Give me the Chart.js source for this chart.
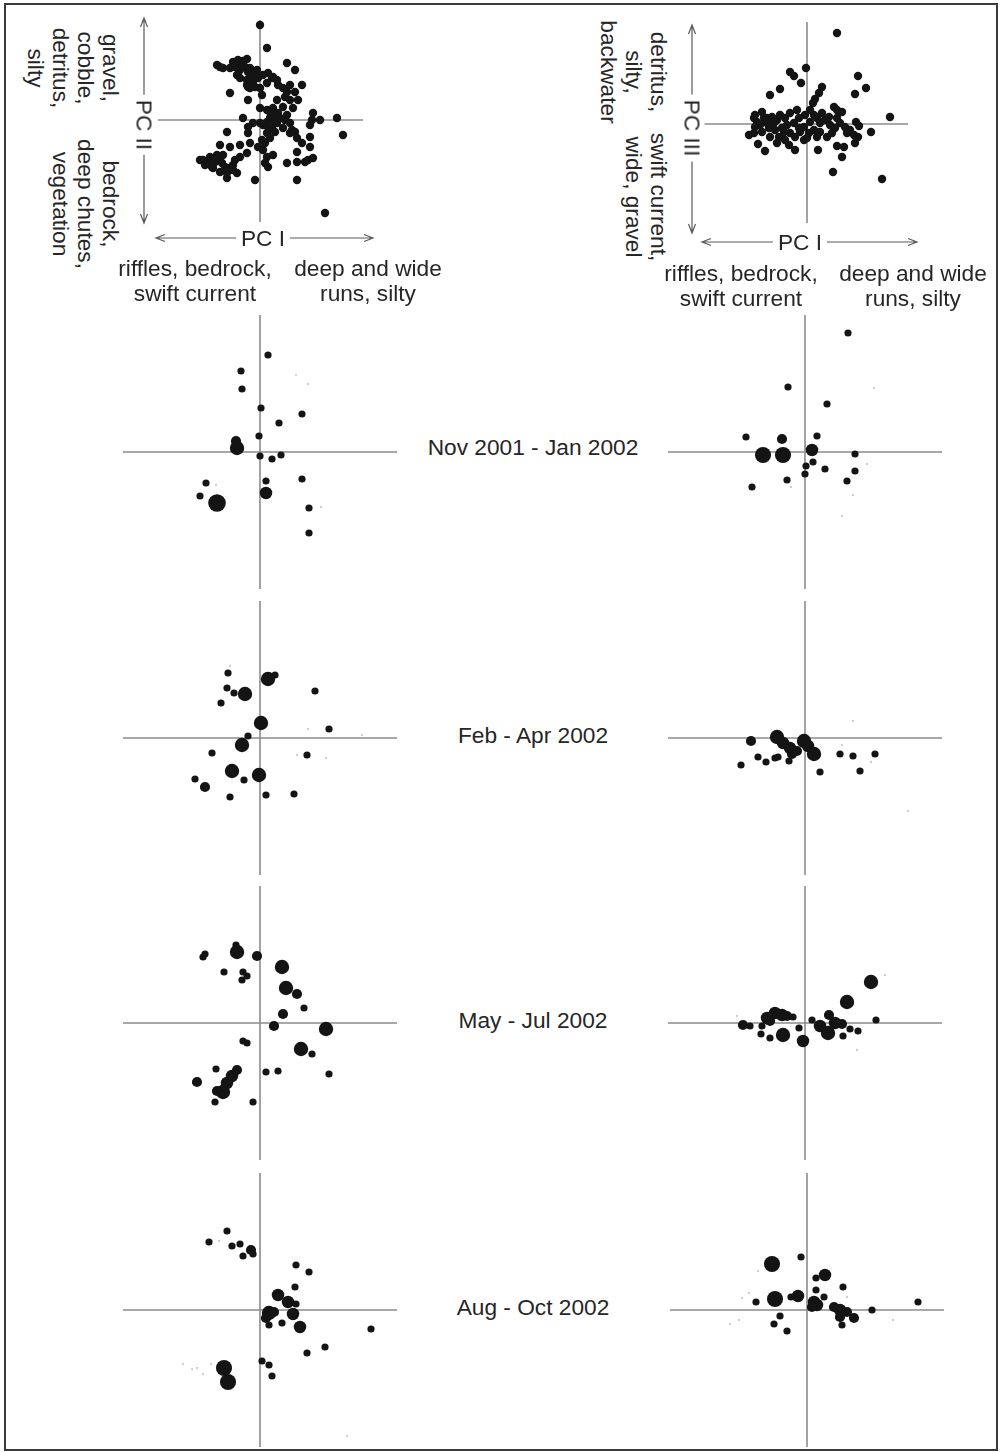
<!DOCTYPE html>
<html>
<head>
<meta charset="utf-8">
<script src="https://cdn.jsdelivr.net/npm/chart.js@4.4.0/dist/chart.umd.min.js"></script>
<style>
  html, body { margin: 0; padding: 0; background: #fff; }
  #fig { position: relative; width: 1000px; height: 1452px; overflow: hidden;
         font-family: "Liberation Sans", Arial, Helvetica, sans-serif; color: #262626; }
  #frame { position: absolute; left: 4px; top: 3px; width: 990px; height: 1444px; border: 2px solid #3a3a3a; }
  canvas { position: absolute; }
  .lbl { position: absolute; white-space: pre; text-align: center; font-size: 22.7px; line-height: 25px;
         transform: translate(-50%, -50%); }
  .rot { transform: translate(-50%, -50%) rotate(90deg); }
  .bg { background: #fff; padding: 0 5px; }
</style>
</head>
<body>
<div id="fig"><div id="frame"></div></div>
<script>
// ---- Site scores, PC I vs PC II ----
const sitesPC12 = [[0,9.5],[0.7,7.2],[-4.3,5.5],[-4.0,5.3],[-3.7,5.2],[-3.0,5.2],[-2.7,5.8],[-2.2,6.0],[-1.7,5.9],[-1.3,6.1],
  [-2.5,5.3],[-2.0,5.0],[-1.5,5.3],[-1.0,5.2],[-0.3,5.0],[-2.3,4.5],[-2.0,4.2],[-1.3,4.0],[-0.8,4.5],[-0.7,3.8],
  [-1.3,3.5],[-1.0,3.2],[-0.2,4.2],[0.3,4.5],[0.8,4.7],[1.2,4.2],[1.7,4.0],[2.7,5.7],[3.5,5.0],[0,3.2],
  [0.2,2.5],[-3.0,2.7],[-1.2,3.3],[-0.5,3.3],[0.7,3.7],[1.3,4.3],[2.3,3.2],[3.0,3.5],[3.5,2.8],[4.2,3.5],
  [2.5,2.3],[1.7,2.0],[3.0,2.0],[3.8,2.0],[3.3,1.2],[2.3,1.3],[1.3,1.2],[0.7,1.0],[0,1.2],[1.8,0.7],
  [2.7,0.5],[1.0,0.2],[0.7,-0.2],[1.3,0],[1.7,-0.3],[2.0,0.2],[2.5,0],[3.0,-0.3],[0.3,-0.5],[0.8,-0.7],
  [-1.7,0.2],[-1.2,-0.7],[-0.7,-0.3],[0,-0.3],[1.2,-0.8],[1.5,-1.2],[2.3,-0.8],[3.2,-1.0],[3.0,-1.3],[3.5,-1.2],
  [3.7,-1.8],[5.3,0.7],[5.2,0],[5.0,-0.5],[6.0,0],[7.7,0.2],[8.3,-1.5],[5.0,-1.7],[4.2,-2.3],[5.0,-2.7],
  [3.7,-3.2],[4.8,-4.0],[5.3,-3.8],[4.5,-4.2],[3.7,-4.2],[2.7,-4.3],[1.3,-3.5],[0.5,-4.3],[0.7,-3.7],[0.8,-4.7],
  [0.3,-3.0],[0.5,-2.3],[0.2,-2.0],[-0.2,-2.7],[-1.2,-1.3],[-1.0,-2.3],[-2.0,-2.5],[-3.3,-1.2],[-4.0,-2.5],[-3.0,-2.7],
  [-1.3,-3.3],[-2.0,-3.7],[-2.5,-4.0],[-2.7,-4.5],[-3.0,-4.8],[-3.3,-5.3],[-4.0,-5.2],[-4.7,-4.8],[-5.3,-4.3],[-5.7,-4.0],
  [-5.0,-3.7],[-4.3,-3.5],[-3.7,-3.5],[-4.5,-4.2],[-3.8,-4.3],[-3.5,-4.7],[-2.7,-5.0],[-2.3,-5.3],[-3.3,-5.8],[-0.5,-6.0],
  [3.7,-6.0],[6.5,-9.3],[1.0,-1.8],[0.7,-1.3],[-1.2,2.0],[-6.0,-4.0],[-5.5,-4.5],[-4.8,-4.7],[-4.2,-4.0],[-1.8,5.5],
  [-1.2,4.8],[1.8,3.5],[2.7,2.8],[1.3,0.5],[1.0,0.8]];

// ---- Site scores, PC I vs PC III ----
const sitesPC13 = [[3.0,9.1],[-1.7,5.2],[-1.3,4.8],[-0.1,5.6],[-0.6,4.1],[5.1,4.8],[5.9,3.6],[4.8,3.0],[-3.7,2.9],[-2.7,3.5],
  [1.5,3.7],[1.2,3.1],[0.8,2.5],[0.6,2.1],[8.3,0.7],[6.4,-0.8],[2.7,1.7],[3.0,1.4],[3.5,1.2],[4.9,0.2],
  [5.2,-0.2],[5.1,-1.3],[4.8,-1.9],[3.7,-2.3],[3.0,-2.2],[3.5,-3.3],[2.6,-4.8],[7.5,-5.5],[1.1,-2.6],[-1.2,-2.6],
  [-4.2,-2.7],[-4.9,-2.0],[-5.8,-1.1],[-5.3,0.6],[-4.5,1.2],[-5.2,-0.3],[-5.0,0.2],[-4.3,0.6],[-4.0,0.1],[-3.5,0.7],
  [-3.0,0.4],[-2.7,0.9],[-2.2,0.6],[-1.7,1.1],[-1.0,1.4],[-0.8,0.6],[-1.3,0.1],[-2.0,-0.1],[-2.5,-0.4],[-3.2,-0.6],
  [-3.8,-0.4],[-4.5,-0.8],[-3.7,-1.3],[-2.8,-1.3],[-2.2,-1.6],[-1.7,-0.9],[-1.2,-1.3],[-0.7,-0.8],[-0.3,-0.3],[0.3,0.2],
  [0.7,0.9],[1.0,0.6],[1.3,0.1],[1.8,0.4],[2.3,-0.1],[2.8,-0.4],[3.3,0.1],[3.8,-0.3],[4.3,-0.6],[2.5,-0.9],
  [2.0,-1.3],[1.3,-0.8],[0.7,-0.6],[0.2,-0.9],[-0.3,-1.6],[0,-1.4],[-1.8,-2.1],[-3.0,-1.9],[0.3,1.4],[-0.2,0.9],
  [1.5,1.1],[2.2,0.7],[3.0,0.6],[4.0,-0.9],[4.7,-1.1],[-5.3,-0.9],[-4.7,-0.1],[-3.3,0.1],[-2.3,-0.8],[-0.8,-0.4],
  [1.0,-1.3],[-4.0,0.6],[-5.2,0.9]];

// ---- Sampling periods ----
const periods = ['Nov 2001 - Jan 2002', 'Feb - Apr 2002', 'May - Jul 2002', 'Aug - Oct 2002'];

// ---- Catch per site for each period: [PC I, PC II or PC III, abundance]; 0 = absent ----
const novJan12 = [[0.8,9.7,1],[-1.9,8.1,1],[-1.8,6.3,1],[0.1,4.4,1],[4.2,3.8,1],[1.9,2.9,1],[-0.1,1.6,1],[-2.4,1.1,2],
  [-2.3,0.4,4],[0,-0.4,1],[1.2,-0.7,1],[2.1,-0.3,1],[-5.4,-3.1,1],[-6.0,-4.4,1],[-4.3,-5.1,6],[0.6,-2.9,1],
  [0.6,-4.1,3],[4.2,-2.7,1],[4.9,-5.6,1],[4.9,-8.1,1],[3.6,7.7,0],[4.8,6.8,0],[6.1,-5.5,0],[-4.4,-3.3,0]];
const novJan13 = [[4.3,11.9,1],[-1.7,6.5,1],[2.2,4.8,1],[-5.9,1.5,1],[-2.3,1.3,2],[1.2,1.6,1],[-4.2,-0.3,5],[-2.2,-0.3,5],
  [0.7,0.2,3],[5.0,-0.2,1],[0.8,-1.0,1],[0.1,-1.4,1],[2.0,-1.7,1],[0,-2.2,1],[5.0,-1.9,1],[-1.8,-2.8,1],
  [-5.3,-3.5,1],[4.2,-2.9,1],[6.9,6.4,0],[6.2,-1.2,0],[4.8,-4.3,0],[3.7,-6.4,0],[-1.4,-3.5,0]];
const febApr12 = [[-3.2,6.5,1],[0.8,5.9,4],[1.5,6.3,1],[-3.3,5.0,1],[-2.6,4.5,1],[-1.5,4.4,4],[-3.9,3.5,1],[5.5,4.7,1],
  [0.1,1.5,4],[6.9,0.9,1],[-1.2,0.2,1],[-1.8,-0.7,4],[-4.8,-1.5,1],[4.7,-1.7,1],[-2.8,-3.3,4],[-0.1,-3.7,4],
  [-1.6,-4.2,1],[-6.5,-4.1,1],[-5.5,-4.9,2],[-3.0,-5.9,1],[0.6,-5.7,1],[3.4,-5.6,1],
  [4.8,0.9,0],[10.2,0.3,0],[3.7,-1.7,0],[6.6,-2.0,0],[-3.0,7.2,0]];
const febApr13 = [[-5.4,-0.3,2],[-2.8,0.1,4],[-2.2,-0.5,3],[-1.5,-1.0,3],[-1.3,-1.6,2],[-0.1,-0.3,4],[0.3,-0.8,3],[0.9,-1.6,4],
  [-0.8,-1.3,2],[-4.7,-1.9,1],[-6.4,-2.7,1],[-3.9,-2.4,1],[-3.0,-2.0,1],[-2.7,-1.9,1],[-1.6,-2.3,1],[1.5,-3.4,1],
  [3.5,-1.6,1],[4.8,-1.8,1],[7.0,-1.6,1],[5.5,-3.3,1],[4.8,1.7,0],[3.7,-0.7,0],[6.6,-2.4,0],[10.3,-7.3,0]];
const mayJul12 = [[-5.5,6.9,1],[-5.7,6.6,1],[-2.3,7.1,4],[-2.4,7.8,1],[-0.3,6.7,2],[2.2,5.6,4],[-3.6,5.1,1],[-1.7,5.1,1],
  [-1.3,4.7,1],[-1.8,4.3,1],[2.6,3.5,4],[3.7,2.9,2],[4.4,1.5,1],[2.3,0.9,2],[1.4,-0.3,2],[6.6,-0.6,4],
  [-1.7,-1.8,1],[-1.3,-2.0,1],[4.1,-2.6,4],[5.2,-3.1,1],[-4.4,-4.6,1],[-2.3,-4.7,2],[-2.8,-5.3,3],[-3.3,-6.0,3],
  [-3.7,-6.9,4],[-4.3,-6.8,2],[-6.3,-5.9,2],[-4.5,-7.9,1],[-0.7,-7.9,1],[0.6,-4.9,1],[1.8,-4.8,1],[6.9,-5.1,1]];
const mayJul13 = [[6.6,4.1,4],[4.2,2.1,4],[7.1,0.3,1],[-6.2,-0.2,2],[-5.5,-0.3,1],[-4.3,-0.3,1],[-3.8,0.5,3],[-3.0,1.0,3],
  [-2.3,0.8,3],[-3.5,0.2,2],[-1.8,0.7,2],[-1.2,0.6,1],[-4.4,-1.1,1],[-3.5,-1.5,1],[-2.2,-1.2,4],[-0.6,-0.5,1],
  [-0.2,-1.8,3],[0.7,0.3,1],[2.4,0.8,2],[1.5,-0.3,3],[2.3,-1.0,4],[3.0,0,3],[3.7,-0.1,2],[4.5,-0.6,1],
  [5.3,-0.8,1],[3.8,-1.3,1],[8.0,4.8,0],[5.2,-2.7,0],[-6.8,0.7,0]];
const augOct12 = [[-3.3,7.9,1],[-5.1,6.8,1],[-2.8,6.4,1],[-2.0,6.6,1],[-0.9,6.0,2],[-0.7,5.6,1],[-1.7,5.4,1],[3.6,4.5,1],
  [4.9,3.8,1],[3.5,2.3,1],[1.8,1.5,3],[2.8,0.8,3],[3.6,0.6,1],[3.3,-0.4,3],[0.9,-0.3,4],[1.4,-0.2,2],
  [0.6,-0.8,2],[0.9,-1.5,1],[2.2,-1.3,1],[4.0,-1.7,3],[11.1,-1.9,1],[6.5,-3.7,1],[4.7,-4.3,1],[0.2,-5.1,1],
  [0.9,-5.5,1],[1.2,-6.6,1],[-3.6,-5.8,5],[-3.2,-7.2,5],
  [-7.7,-5.4,0],[-6.8,-5.9,0],[-6.3,-5.8,0],[-5.7,-6.4,0],[-4.9,-5.4,0],[-4.1,6.9,0],[8.7,-12.6,0]];
const augOct13 = [[-3.5,4.6,5],[-0.6,5.3,1],[1.8,3.5,3],[0.9,3.2,1],[3.6,2.3,1],[0.9,2.0,1],[-3.2,1.1,5],[-0.9,1.4,3],
  [-1.6,1.3,1],[-5.1,0.8,1],[0.7,0.8,3],[1.0,0.5,3],[1.7,1.3,1],[0.5,0.3,2],[2.7,0.3,2],[3.3,0,3],
  [4.0,-0.2,2],[3.3,-0.7,2],[4.7,-0.8,2],[6.5,0,1],[11.1,0.8,1],[-2.7,-0.6,1],[-3.3,-1.4,1],[-2.0,-2.1,1],
  [3.5,-1.5,1],[-4.9,3.9,0],[-5.8,1.7,0],[-6.5,1.2,0],[-7.7,-1.4,0],[-6.8,-1.0,0],[8.6,-1.0,0],[4.0,1.3,0]];

const fig = document.getElementById('fig');
const INK = '#141414';
const AXIS = '#8c8c8c';

// Crosshair through the origin, plus optional double-headed axis arrows
const crossPlugin = {
  id: 'cross',
  beforeDatasetsDraw(chart, args, opts) {
    const { ctx, chartArea: a, scales: { x, y } } = chart;
    const x0 = x.getPixelForValue(0), y0 = y.getPixelForValue(0);
    ctx.save();
    ctx.strokeStyle = AXIS;
    ctx.lineWidth = 1.6;
    ctx.beginPath();
    ctx.moveTo(a.left, y0); ctx.lineTo(a.right, y0);
    ctx.moveTo(x0, a.top); ctx.lineTo(x0, a.bottom);
    ctx.stroke();
    const ar = opts.arrows;
    if (ar) {
      ctx.strokeStyle = '#5a5a5a';
      ctx.lineWidth = 1.2;
      const vx = a.left + ar.vx, vt = a.top + ar.vt, vb = a.bottom + ar.vb;
      const hy = a.bottom + ar.hy, hl = a.left + ar.hl, hr = a.right + ar.hr;
      const L = 9, W = 3.5;
      ctx.beginPath();
      ctx.moveTo(vx, vt); ctx.lineTo(vx, vb);
      ctx.moveTo(vx - W, vt + L); ctx.lineTo(vx, vt); ctx.lineTo(vx + W, vt + L);
      ctx.moveTo(vx - W, vb - L); ctx.lineTo(vx, vb); ctx.lineTo(vx + W, vb - L);
      ctx.moveTo(hl, hy); ctx.lineTo(hr, hy);
      ctx.moveTo(hl + L, hy - W); ctx.lineTo(hl, hy); ctx.lineTo(hl + L, hy + W);
      ctx.moveTo(hr - L, hy - W); ctx.lineTo(hr, hy); ctx.lineTo(hr - L, hy + W);
      ctx.stroke();
    }
    ctx.restore();
  }
};

function panel(left, top, w, h, pad, xr, yr, dataset, arrows) {
  const c = document.createElement('canvas');
  c.width = w; c.height = h;
  c.style.left = left + 'px'; c.style.top = top + 'px';
  c.style.width = w + 'px'; c.style.height = h + 'px';
  fig.appendChild(c);
  return new Chart(c, {
    type: dataset.type,
    data: { datasets: [dataset] },
    options: {
      responsive: false, animation: false, devicePixelRatio: 1, events: [],
      layout: { padding: pad, autoPadding: false },
      scales: {
        x: { type: 'linear', display: false, min: xr[0], max: xr[1] },
        y: { type: 'linear', display: false, min: yr[0], max: yr[1] }
      },
      plugins: { legend: { display: false }, tooltip: { enabled: false }, cross: { arrows } }
    },
    plugins: [crossPlugin]
  });
}

function siteSet(pts) {
  return { type: 'scatter', data: pts.map(p => ({ x: p[0], y: p[1] })),
           pointRadius: 4.2, pointBackgroundColor: INK, pointBorderWidth: 0, clip: false };
}
function catchSet(pts) {
  return { type: 'bubble',
           data: pts.map(p => ({ x: p[0], y: p[1], n: p[2], r: p[2] > 0 ? 3.6 * Math.sqrt(p[2]) : 1.2 })),
           backgroundColor: ctx => (ctx.raw && ctx.raw.n > 0) ? INK : '#cfcfcf',
           borderWidth: 0, clip: false };
}

// Site ordinations
panel(130, 10, 260, 240, { left: 28, top: 10, right: 27, bottom: 28 }, [-10.2, 10.3], [-10.2, 10.0],
      siteSet(sitesPC12), { vx: -14, vt: -2, vb: 1, hy: 16, hl: -2, hr: 10 });
panel(675, 12, 260, 243, { left: 28, top: 10, right: 27, bottom: 32 }, [-10.4, 10.1], [-9.9, 10.2],
      siteSet(sitesPC13), { vx: -11, vt: 3, vb: 10, hy: 19, hl: -1, hr: 9 });

// Seasonal catch panels
const R = [-13.7, 13.7];
const rowTops = [315, 601, 886, 1173];
const left12 = [novJan12, febApr12, mayJul12, augOct12];
const right13 = [novJan13, febApr13, mayJul13, augOct13];
rowTops.forEach((t, i) => {
  panel(123, t, 274, 274, 0, R, R, catchSet(left12[i]), null);
  panel(i === 3 ? 670 : 668, t, 274, 274, 0, R, R, catchSet(right13[i]), null);
});

// Text
function label(text, x, y, cls) {
  const d = document.createElement('div');
  d.className = 'lbl' + (cls ? ' ' + cls : '');
  d.textContent = text;
  d.style.left = x + 'px'; d.style.top = y + 'px';
  fig.appendChild(d);
}
label('gravel,\ncobble,\ndetritus,\nsilty', 73, 68, 'rot');
label('bedrock,\ndeep chutes,\nvegetation', 85, 204, 'rot');
label('PC II', 144, 125, 'rot bg');
label('PC I', 263, 238, 'bg');
label('riffles, bedrock,\nswift current', 195, 281);
label('deep and wide\nruns, silty', 368, 281);

label('detritus,\nsilty,\nbackwater', 633, 72, 'rot');
label('swift current,\nwide, gravel', 645.5, 197, 'rot');
label('PC III', 692, 128, 'rot bg');
label('PC I', 800, 242, 'bg');
label('riffles, bedrock,\nswift current', 741, 286);
label('deep and wide\nruns, silty', 913, 286);

const periodY = [447, 735, 1020, 1307];
periods.forEach((p, i) => label(p, 533, periodY[i]));
</script>
</body>
</html>
